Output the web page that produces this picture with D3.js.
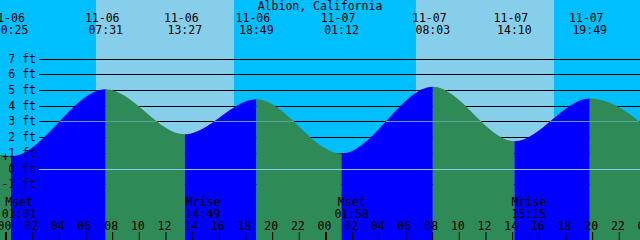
<!DOCTYPE html>
<html>
<head>
<meta charset="utf-8">
<script src="https://cdn.jsdelivr.net/npm/d3@7"></script>
<style>
  body { margin: 0; background: #fff; }
  svg { display: block; }
  text { font-family: "DejaVu Sans Mono", monospace; font-size: 11.5px; fill: #000; }
</style>
</head>
<body>
<script>
// tide extremes (first and last are just off the picture, so the curve reaches the edges)
const tideTimes = ["2024-11-05 18:10", "2024-11-06 00:25", "2024-11-06 07:31", "2024-11-06 13:27",
  "2024-11-06 18:49", "2024-11-07 01:12", "2024-11-07 08:03", "2024-11-07 14:10",
  "2024-11-07 19:49", "2024-11-08 02:00"];
const tideHeights = [4.3, 0.78, 5.05, 2.18, 4.41, 0.95, 5.2, 1.74, 4.46, 1.1];

const sunrises = ["2024-11-06 06:47", "2024-11-07 06:47"];
const sunsets = ["2024-11-06 17:08", "2024-11-07 17:08"];

const moonTimes = ["2024-11-06 01:01", "2024-11-06 14:49", "2024-11-07 01:58", "2024-11-07 15:15"];
const moonLabels = ["Mset", "Mrise", "Mset", "Mrise"];

const levels = [-1, 0, 1, 2, 3, 4, 5, 6, 7];
const meanLevel = 3;
const datumLevel = 0;
const title = "Albion, California";

const width = 640, height = 240;
const parse = d3.utcParse("%Y-%m-%d %H:%M");

const tides = tideTimes.map((t, i) => ({ t: parse(t), h: tideHeights[i] }));
const start = parse("2024-11-06 00:00"), end = parse("2024-11-08 00:00");

const x = d3.scaleUtc().domain([start, end]).range([5.5, 645.5]);
const y = d3.scaleLinear().domain([0, 7]).range([168.5, 58.5]);

const svg = d3.select("body").append("svg")
  .attr("width", width).attr("height", height);

// night / day background
svg.append("rect").attr("width", width).attr("height", height).attr("fill", "#00BFFF");
svg.selectAll(".day").data(sunrises).enter().append("rect")
  .attr("x", (d) => x(parse(d)))
  .attr("width", (d, i) => x(parse(sunsets[i])) - x(parse(d)))
  .attr("y", 0).attr("height", height)
  .attr("fill", "#87CEEB");

// level lines
svg.selectAll(".lvl").data(levels).enter().append("line")
  .attr("x1", 39).attr("x2", width)
  .attr("y1", (d) => Math.round(y(d)) + 0.5).attr("y2", (d) => Math.round(y(d)) + 0.5)
  .attr("stroke", "#000").attr("stroke-width", 1);

// water
const area = d3.area()
  .x((d) => x(d.t))
  .y0(height)
  .y1((d) => y(d.h))
  .curve(d3.curveMonotoneX);

svg.append("clipPath").attr("id", "water")
  .append("path").attr("d", area(tides));

const water = svg.append("g").attr("clip-path", "url(#water)");
water.selectAll("rect").data(d3.pairs(tides)).enter().append("rect")
  .attr("x", (d) => x(d[0].t))
  .attr("width", (d) => x(d[1].t) - x(d[0].t))
  .attr("y", 0).attr("height", height)
  .attr("fill", (d) => d[1].h > d[0].h ? "#0000FF" : "#2E8B57");

water.append("line")
  .attr("x1", 39).attr("x2", width)
  .attr("y1", Math.round(y(meanLevel)) + 0.5).attr("y2", Math.round(y(meanLevel)) + 0.5)
  .attr("stroke", "#5F9EA0");
water.append("line")
  .attr("x1", 39).attr("x2", width)
  .attr("y1", Math.round(y(datumLevel)) + 0.5).attr("y2", Math.round(y(datumLevel)) + 0.5)
  .attr("stroke", "#87CEEB");

// level labels
svg.selectAll(".lvlLabel").data(levels).enter().append("text")
  .attr("x", 36).attr("y", (d) => Math.round(y(d)) + 3.5)
  .attr("text-anchor", "end")
  .text((d) => `${d} ft`);
svg.append("text").attr("x", 5.5).attr("y", 161).attr("text-anchor", "middle").text("+");

// title and tide event labels
svg.append("text").attr("x", 320).attr("y", 9.5).attr("text-anchor", "middle").text(title);

const shown = tides.filter((d) => d.t >= start && d.t < end);
const fmtDate = d3.utcFormat("%m-%d"), fmtTime = d3.utcFormat("%H:%M");
svg.selectAll(".tDate").data(shown).enter().append("text")
  .attr("x", (d) => x(d.t) - 3.5).attr("y", 21.5)
  .attr("text-anchor", "middle")
  .text((d) => fmtDate(d.t));
svg.selectAll(".tTime").data(shown).enter().append("text")
  .attr("x", (d) => x(d.t)).attr("y", 33.5)
  .attr("text-anchor", "middle")
  .text((d) => fmtTime(d.t));

// moon events
svg.selectAll(".mName").data(moonTimes).enter().append("text")
  .attr("x", (d) => x(parse(d))).attr("y", 206)
  .attr("text-anchor", "middle")
  .text((d, i) => moonLabels[i]);
svg.selectAll(".mTime").data(moonTimes).enter().append("text")
  .attr("x", (d) => x(parse(d))).attr("y", 217.5)
  .attr("text-anchor", "middle")
  .text((d) => fmtTime(parse(d)));

// hour axis along the bottom
const hourAxis = d3.axisTop(x)
  .ticks(d3.utcHour.every(2))
  .tickSize(8)
  .tickPadding(2)
  .tickFormat(d3.utcFormat("%H"));

const axisG = svg.append("g")
  .attr("transform", `translate(0, ${height})`)
  .call(hourAxis);
axisG.select(".domain").remove();
axisG.selectAll("text")
  .attr("dx", -1.5)
  .style("font-family", "DejaVu Sans Mono, monospace")
  .style("font-size", "11.5px")
  .attr("fill", "#000");
axisG.selectAll(".tick line")
  .attr("stroke", "#000")
  .attr("stroke-width", (d) => d.getUTCHours() === 0 ? 2 : 1);

svg.selectAll(".mTick").data(moonTimes).enter().append("line")
  .attr("x1", (d) => Math.round(x(parse(d))) + 0.5).attr("x2", (d) => Math.round(x(parse(d))) + 0.5)
  .attr("y1", height - 8).attr("y2", height)
  .attr("stroke", "#000");
</script>
</body>
</html>
